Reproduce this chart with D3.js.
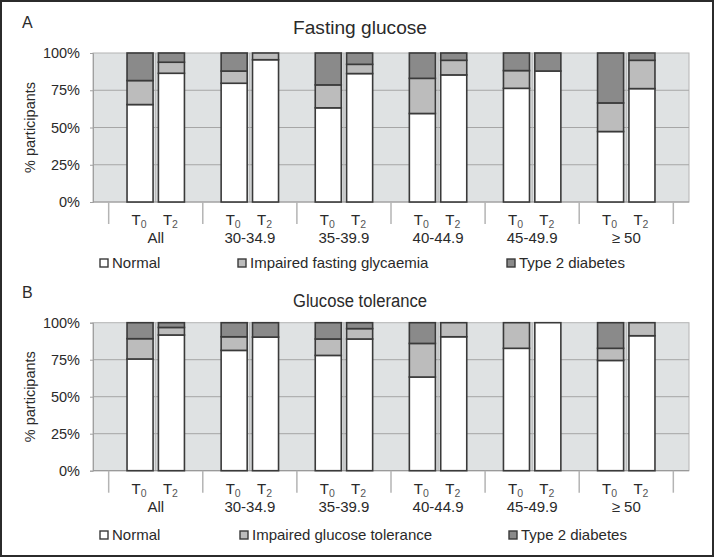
<!DOCTYPE html>
<html>
<head>
<meta charset="utf-8">
<script src="https://cdn.jsdelivr.net/npm/d3@7"></script>
<style>
  html, body { margin: 0; padding: 0; background: #fff; }
  svg { display: block; font-family: "Liberation Sans", Arial, sans-serif; }
</style>
</head>
<body>
<svg id="chart" width="715" height="558"></svg>
<script>
// ---------- data ----------
const groups = ["All", "30-34.9", "35-39.9", "40-44.9", "45-49.9", "\u2265 50"];
const times = ["0", "2"]; // subscripts of T
const yTicks = [0, 25, 50, 75, 100];

// Panel A – Fasting glucose (% participants), order: each group T0, T2
const fgNormal   = [65.4, 86.4, 79.7, 95.5, 63.2, 86.2, 59.4, 85.3, 76.3, 87.9, 47.3, 76.1];
const fgImpaired = [16.1,  7.4,  8.2,  4.5, 15.4,  6.2, 23.6,  9.8, 11.9,  0.0, 19.2, 19.0];
const fgDiabetes = [18.5,  6.2, 12.1,  0.0, 21.4,  7.6, 17.0,  4.9, 11.8, 12.1, 33.5,  4.9];
const fgLegend = ["Normal", "Impaired fasting glycaemia", "Type 2 diabetes"];

// Panel B – Glucose tolerance
const gtNormal   = [75.5, 91.7, 81.3, 90.3, 77.9, 89.0, 63.3, 90.5, 82.7, 100.0, 74.5, 91.2];
const gtImpaired = [13.7,  5.1,  9.2,  0.0, 11.1,  7.0, 22.7,  9.5, 17.3,   0.0,  8.2,  8.8];
const gtDiabetes = [10.8,  3.2,  9.5,  9.7, 11.0,  4.0, 14.0,  0.0,  0.0,   0.0, 17.3,  0.0];
const gtLegend = ["Normal", "Impaired glucose tolerance", "Type 2 diabetes"];

// ---------- styles ----------
const fills = ["#ffffff", "#bcbcbc", "#8a8a8a"];
const textColor = "#2a2a2a";

const svg = d3.select("#chart");
svg.append("rect").attr("x", 0).attr("y", 0).attr("width", 715).attr("height", 558).attr("fill", "#fff");
svg.append("rect").attr("x", 1).attr("y", 1).attr("width", 712).attr("height", 555)
  .attr("fill", "none").attr("stroke", "#2b2b2b").attr("stroke-width", 2);

// slots: gap, T0, T2, gap, T0, T2, ..., gap
const slots = [];
groups.forEach((g, gi) => {
  slots.push("gap" + gi);
  times.forEach(t => slots.push(g + "|" + t));
});
slots.push("gap" + groups.length);

const x = d3.scaleBand().domain(slots).range([93, 689]).paddingInner(0.17).paddingOuter(0.085);

function panel(cfg) {
  const g = svg.append("g");
  const y = d3.scaleLinear().domain([0, 100]).range([cfg.bottom, cfg.top]);
  const left = 93, right = 689;

  // letter and title
  g.append("text").attr("x", 22).attr("y", cfg.letterY).attr("font-size", 16)
    .attr("fill", textColor).text(cfg.letter);
  g.append("text").attr("x", 360).attr("y", cfg.titleY).attr("text-anchor", "middle")
    .attr("font-size", 18).attr("textLength", 134).attr("lengthAdjust", "spacingAndGlyphs")
    .attr("fill", textColor).text(cfg.title);

  // plot background
  g.append("rect").attr("x", left).attr("y", y(100)).attr("width", right - left)
    .attr("height", y(0) - y(100)).attr("fill", "#dfe2e3").attr("stroke", "#b4b4b4").attr("stroke-width", 1);

  // grid lines
  g.selectAll(".grid").data(yTicks.filter(v => v > 0 && v < 100)).join("line")
    .attr("x1", left).attr("x2", right).attr("y1", d => y(d)).attr("y2", d => y(d))
    .attr("stroke", "#a6a6a6").attr("stroke-width", 1);

  // thin divider between paired bars
  g.selectAll(".pair").data(groups).join("line")
    .attr("x1", d => x(d + "|" + times[1]) - (x.step() - x.bandwidth()) / 2)
    .attr("x2", d => x(d + "|" + times[1]) - (x.step() - x.bandwidth()) / 2)
    .attr("y1", y(100)).attr("y2", y(0)).attr("stroke", "#b0b0b0").attr("stroke-width", 1);

  // y axis
  const yAxis = d3.axisLeft(y).tickValues(yTicks).tickFormat(d => d + "%").tickSize(3).tickPadding(10);
  const ya = g.append("g").attr("transform", `translate(${left},0)`).call(yAxis);
  ya.select(".domain").attr("stroke", "#a0a0a0");
  ya.selectAll(".tick line").attr("stroke", "#a0a0a0");
  ya.selectAll(".tick text").attr("font-size", 14.5).attr("fill", textColor)
    .attr("font-family", "Liberation Sans, Arial, sans-serif");

  // x base line
  g.append("line").attr("x1", left).attr("x2", right).attr("y1", y(0)).attr("y2", y(0))
    .attr("stroke", "#9a9a9a").attr("stroke-width", 1.2);

  // y label
  g.append("text").attr("transform", `translate(35,${(y(0) + y(100)) / 2}) rotate(-90)`)
    .attr("text-anchor", "middle").attr("font-size", 14.5).attr("fill", textColor).text("% participants");

  // stacked bars
  const rows = [];
  groups.forEach((gr, gi) => times.forEach((t, ti) => {
    const i = gi * 2 + ti;
    rows.push({ key: gr + "|" + t, s: [cfg.normal[i], cfg.impaired[i], cfg.diabetes[i]] });
  }));
  const stack = d3.stack().keys([0, 1, 2]).value((d, k) => d.s[k]);
  const series = stack(rows);
  series.forEach((ser, si) => {
    g.selectAll(".s" + si).data(ser.filter(d => d[1] - d[0] > 0)).join("rect")
      .attr("x", d => x(d.data.key))
      .attr("width", x.bandwidth())
      .attr("y", d => y(Math.min(d[1], 100)))
      .attr("height", d => y(d[0]) - y(Math.min(d[1], 100)))
      .attr("fill", fills[si]).attr("stroke", "#3a3a3a").attr("stroke-width", 1.6);
  });

  // category separators below axis
  g.selectAll(".sep").data(slots.filter(s => s.startsWith("gap"))).join("line")
    .attr("x1", d => x(d) + x.bandwidth() / 2).attr("x2", d => x(d) + x.bandwidth() / 2)
    .attr("y1", y(0)).attr("y2", y(0) + 22).attr("stroke", "#b4b4b4").attr("stroke-width", 1.5);

  // T labels
  const tl = g.selectAll(".tl").data(rows).join("text")
    .attr("x", d => x(d.key) + x.bandwidth() / 2 - 1)
    .attr("y", y(0) + 23).attr("text-anchor", "middle").attr("font-size", 15).attr("fill", textColor);
  tl.append("tspan").text("T");
  tl.append("tspan").attr("dy", 3).attr("font-size", 10.5).attr("fill", "#555").text(d => d.key.split("|")[1]);

  // group labels
  g.selectAll(".gl").data(groups).join("text")
    .attr("x", d => (x(d + "|" + times[0]) + x(d + "|" + times[1]) + x.bandwidth()) / 2)
    .attr("y", y(0) + 41).attr("text-anchor", "middle").attr("font-size", 15).attr("fill", textColor)
    .text(d => d);

  // legend
  const lg = g.selectAll(".lg").data(cfg.legend).join("g")
    .attr("transform", (d, i) => `translate(${cfg.legendX[i]},${cfg.legendY})`);
  lg.append("rect").attr("x", 0).attr("y", -9).attr("width", 8).attr("height", 8)
    .attr("fill", (d, i) => fills[i]).attr("stroke", "#3a3a3a").attr("stroke-width", 1.4);
  lg.append("text").attr("x", 12).attr("y", 0).attr("font-size", 15).attr("fill", textColor).text(d => d);
}

panel({
  letter: "A", letterY: 28, title: "Fasting glucose", titleY: 34,
  top: 53, bottom: 202,
  normal: fgNormal, impaired: fgImpaired, diabetes: fgDiabetes,
  legend: fgLegend, legendX: [100, 238, 507], legendY: 268
});
panel({
  letter: "B", letterY: 298, title: "Glucose tolerance", titleY: 307,
  top: 322.7, bottom: 470.7,
  normal: gtNormal, impaired: gtImpaired, diabetes: gtDiabetes,
  legend: gtLegend, legendX: [100, 240, 509], legendY: 540
});
</script>
</body>
</html>
